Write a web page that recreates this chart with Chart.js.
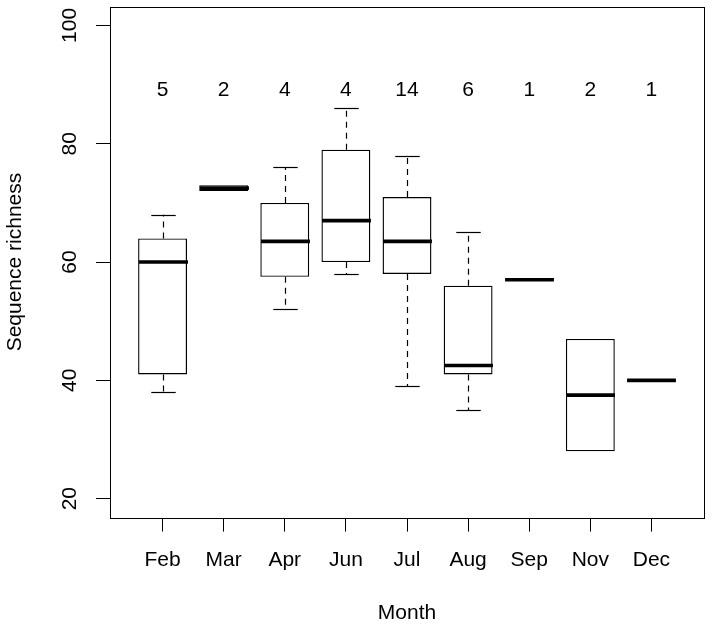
<!DOCTYPE html>
<html>
<head>
<meta charset="utf-8">
<script src="https://cdn.jsdelivr.net/npm/chart.js@4.4.0/dist/chart.umd.min.js"></script>
<style>
  html, body { margin: 0; padding: 0; background: #fff; }
  #wrap { width: 711px; height: 628px; }
</style>
</head>
<body>
<div id="wrap"><canvas id="box-chart" width="711" height="628"></canvas></div>
<script>
// values
const months = ['Feb', 'Mar', 'Apr', 'Jun', 'Jul', 'Aug', 'Sep', 'Nov', 'Dec'];
const lowWhisker = [38, 72, 52, 58, 39, 35, 57, 28, 40];
const q1 = [41, 72, 57.5, 60, 58, 41, 57, 28, 40];
const median = [60, 72.5, 63.5, 67, 63.5, 42.5, 57, 37.5, 40];
const q3 = [64, 73, 70, 79, 71, 56, 57, 47, 40];
const highWhisker = [68, 73, 76, 86, 78, 65, 57, 47, 40];
const counts = [5, 2, 4, 4, 14, 6, 1, 2, 1];
const yTicks = [20, 40, 60, 80, 100];
const countY = 89;

const FONT = '"Liberation Sans", Arial, sans-serif';
Chart.defaults.font.family = FONT;
Chart.defaults.color = '#000';

function seg(ctx, x1, y1, x2, y2) {
    ctx.beginPath();
    ctx.moveTo(x1, y1);
    ctx.lineTo(x2, y2);
    ctx.stroke();
}

const boxExtras = {
    id: 'boxExtras',
    afterDatasetsDraw(chart) {
        const { ctx, scales: { x, y } } = chart;
        const boxW = (x.getPixelForValue(2) - x.getPixelForValue(1)) * 0.8;
        ctx.save();
        ctx.strokeStyle = '#000';
        ctx.lineCap = 'butt';
        months.forEach((m, i) => {
            const cx = Math.round(x.getPixelForValue(i + 1)) + 0.5;
            const yLo = y.getPixelForValue(lowWhisker[i]);
            const yQ1 = y.getPixelForValue(q1[i]);
            const yQ3 = y.getPixelForValue(q3[i]);
            const yHi = y.getPixelForValue(highWhisker[i]);
            const yMed = y.getPixelForValue(median[i]);

            // dashed whiskers + staples
            ctx.lineWidth = 1.2;
            if (highWhisker[i] > q3[i]) {
                ctx.setLineDash([6, 5]);
                seg(ctx, cx, yQ3, cx, yHi);
                ctx.setLineDash([]);
                const c = Math.round(yHi) + 0.5;
                seg(ctx, cx - boxW / 4, c, cx + boxW / 4, c);
            }
            if (lowWhisker[i] < q1[i]) {
                ctx.setLineDash([6, 5]);
                seg(ctx, cx, yQ1, cx, yLo);
                ctx.setLineDash([]);
                const c = Math.round(yLo) + 0.5;
                seg(ctx, cx - boxW / 4, c, cx + boxW / 4, c);
            }

            // median
            ctx.lineWidth = 3.6;
            seg(ctx, cx - boxW / 2, yMed, cx + boxW / 2, yMed);
        });

        // group sizes
        ctx.fillStyle = '#000';
        ctx.font = '21px ' + FONT;
        ctx.textAlign = 'center';
        ctx.textBaseline = 'middle';
        counts.forEach((n, i) => {
            ctx.fillText(String(n), x.getPixelForValue(i + 1), y.getPixelForValue(countY));
        });
        ctx.restore();
    },
    afterDraw(chart) {
        const { ctx, chartArea: a, scales: { y } } = chart;
        ctx.save();
        // box around plot region
        ctx.strokeStyle = '#000';
        ctx.lineWidth = 1;
        const l = Math.round(a.left) + 0.5, t = Math.round(a.top) + 0.5;
        const r = Math.round(a.right) + 0.5, b = Math.round(a.bottom) + 0.5;
        ctx.strokeRect(l, t, r - l, b - t);

        // rotated y tick labels like R's las=0
        ctx.fillStyle = '#000';
        ctx.font = '21px ' + FONT;
        ctx.textAlign = 'center';
        ctx.textBaseline = 'middle';
        yTicks.forEach(v => {
            ctx.save();
            ctx.translate(a.left - 39.5, y.getPixelForValue(v));
            ctx.rotate(-Math.PI / 2);
            ctx.fillText(String(v), 0, 0);
            ctx.restore();
        });
        ctx.restore();
    }
};

const boxData = months.map((m, i) => ({ x: i + 1, y: [q1[i], q3[i]] }));

new Chart(document.getElementById('box-chart'), {
    type: 'bar',
    data: {
        datasets: [
            {
                label: 'Sequence richness',
                data: boxData,
                backgroundColor: '#fff',
                borderColor: '#000',
                borderWidth: 1.4,
                borderSkipped: false,
                barPercentage: 0.8,
                categoryPercentage: 1.0
            }
        ]
    },
    options: {
        responsive: false,
        animation: false,
        devicePixelRatio: 1,
        layout: { padding: { left: 0, top: 6.5, right: 7, bottom: 0 } },
        plugins: {
            legend: { display: false },
            tooltip: { enabled: false }
        },
        scales: {
            x: {
                type: 'linear',
                min: 0.14,
                max: 9.86,
                offset: false,
                afterBuildTicks: s => { s.ticks = months.map((m, i) => ({ value: i + 1 })); },
                afterFit: s => { s.height = 110.4; },
                grid: { display: true, offset: false, drawOnChartArea: false, drawTicks: true, tickLength: 14, color: '#000', lineWidth: 1 },
                border: { display: false },
                ticks: {
                    autoSkip: false,
                    maxRotation: 0,
                    minRotation: 0,
                    padding: 15.8,
                    font: { size: 21 },
                    color: '#000',
                    callback: v => months[Math.round(v) - 1]
                },
                title: { display: true, text: 'Month', font: { size: 21 }, color: '#000', padding: { top: 0, bottom: 2.4 } }
            },
            y: {
                min: 16.8,
                max: 103.2,
                afterBuildTicks: s => { s.ticks = yTicks.map(v => ({ value: v })); },
                afterFit: s => { s.width = 110; },
                grid: { display: true, drawOnChartArea: false, drawTicks: true, tickLength: 14, color: '#000', lineWidth: 1 },
                border: { display: false },
                ticks: { display: false },
                title: { display: true, text: 'Sequence richness', font: { size: 21 }, color: '#000', padding: { top: 2.4, bottom: 0 } }
            }
        }
    },
    plugins: [boxExtras]
});
</script>
</body>
</html>
